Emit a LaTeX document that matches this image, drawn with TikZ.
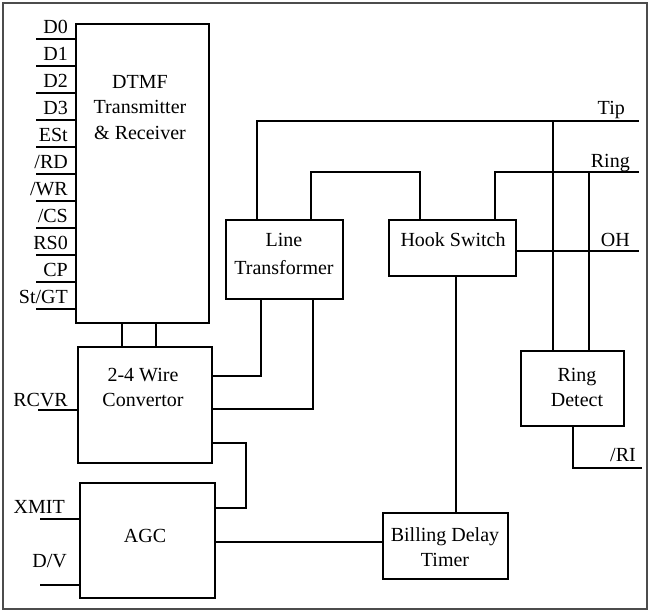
\documentclass[tikz,border=0pt]{standalone}
\usepackage{fontspec}
\setmainfont{Liberation Serif}
\usetikzlibrary{calc}
\begin{document}
\begin{tikzpicture}[x=1pt,y=-1pt,
  every node/.style={font=\fontsize{20}{24}\selectfont, inner sep=0pt},
  box/.style={draw, line width=2.5pt, rectangle},
  wire/.style={line width=2.6pt},
  lbl/.style={anchor=base east},
  txt/.style={anchor=base}]
\useasboundingbox (0,0) rectangle (649,612);
\draw[gray!60!black, line width=1.4pt] (3,3) rectangle (647,609);

% boxes
\node[box, minimum width=133pt, minimum height=299pt] (dtmf) at (142.5,173.5) {};
\node[box, minimum width=134pt, minimum height=116pt] (wire) at (145,405) {};
\node[box, minimum width=135pt, minimum height=115pt] (agc) at (147.5,540.5) {};
\node[box, minimum width=117pt, minimum height=79pt] (lt) at (284.5,259.5) {};
\node[box, minimum width=127pt, minimum height=56pt] (hook) at (452.5,248) {};
\node[box, minimum width=103pt, minimum height=75pt] (ring) at (572.5,388.5) {};
\node[box, minimum width=125pt, minimum height=66pt] (bill) at (445.5,546) {};

% box texts
\node[txt] (t1) at (140,89) {DTMF};
\node[txt] (t2) at (140,114) {Transmitter};
\node[txt] (t3) at (140,140) {\& Receiver};
\node[txt] (t4) at (143,382) {2-4 Wire};
\node[txt] (t5) at (143,407) {Convertor};
\node[txt] (t6) at (145,543) {AGC};
\node[txt] (t7) at (284,247) {Line};
\node[txt] (t8) at (284,275) {Transformer};
\node[txt] (t9) at (453,247) {Hook Switch};
\node[txt] (t10) at (577,382) {Ring};
\node[txt] (t11) at (577,407) {Detect};
\node[txt] (t12) at (445,542) {Billing Delay};
\node[txt] (t13) at (445,567) {Timer};

% pins of DTMF
\foreach \name [count=\i from 0] in {D0,D1,D2,D3,ESt,/RD,/WR,/CS,RS0,CP,St/GT}{
  \pgfmathsetmacro{\yy}{39+27*\i}
  \coordinate (pin\i) at (36,\yy);
  \draw[wire] (pin\i) -- (dtmf.west |- pin\i);
  \node[lbl] (pl\i) at (68,\yy-5) {\name};
}

% side labels
\node[lbl] (lrcvr) at (68,407) {RCVR};
\node[lbl] (lxmit) at (65,514) {XMIT};
\node[lbl] (ldv) at (67,568) {D/V};
\node[lbl] (ltip) at (625,115) {Tip};
\node[lbl] (lring) at (630,168) {Ring};
\node[lbl] (loh) at (630,247) {OH};
\node[lbl] (lri) at (636,462) {/RI};

% free ends
\coordinate (rcvr) at (38,410);
\coordinate (xmit) at (40,519);
\coordinate (dv) at (40,585);
\coordinate (tipend) at (639,121);
\coordinate (ringend) at (639,172);
\coordinate (ohend) at (639,251);
\coordinate (riend) at (642,468);
\coordinate (tipj) at (553,121);
\coordinate (ringj) at (589,172);

\draw[wire] (rcvr) -- (wire.west |- rcvr);
\draw[wire] (xmit) -- (agc.west |- xmit);
\draw[wire] (dv) -- (agc.west |- dv);

% DTMF to wire
\draw[wire] (122,0 |- dtmf.south) -- (122,0 |- wire.north);
\draw[wire] (156,0 |- dtmf.south) -- (156,0 |- wire.north);

% wire to line transformer
\draw[wire] (wire.east |- 0,376) -| (261,0 |- lt.south);
\draw[wire] (wire.east |- 0,409) -| (313,0 |- lt.south);

% wire to agc
\draw[wire] (wire.east |- 0,443) -- (246,443) -- (246,508) -- (agc.east |- 0,508);

% agc to billing
\draw[wire] (agc.east |- 0,542) -- (bill.west |- 0,542);

% line transformer tip and to hook
\draw[wire] (257,0 |- lt.north) |- (tipend);
\draw[wire] (311,0 |- lt.north) -- (311,172) -| (420,0 |- hook.north);

% hook ring, OH
\draw[wire] (495,0 |- hook.north) |- (ringend);
\draw[wire] (hook.east |- 0,251) -- (ohend);

% ring detect
\draw[wire] (tipj) -- (tipj |- ring.north);
\draw[wire] (ringj) -- (ringj |- ring.north);
\draw[wire] (573,0 |- ring.south) |- (riend);

% hook to billing
\draw[wire] (456,0 |- hook.south) -- (456,0 |- bill.north);
\end{tikzpicture}
\end{document}
